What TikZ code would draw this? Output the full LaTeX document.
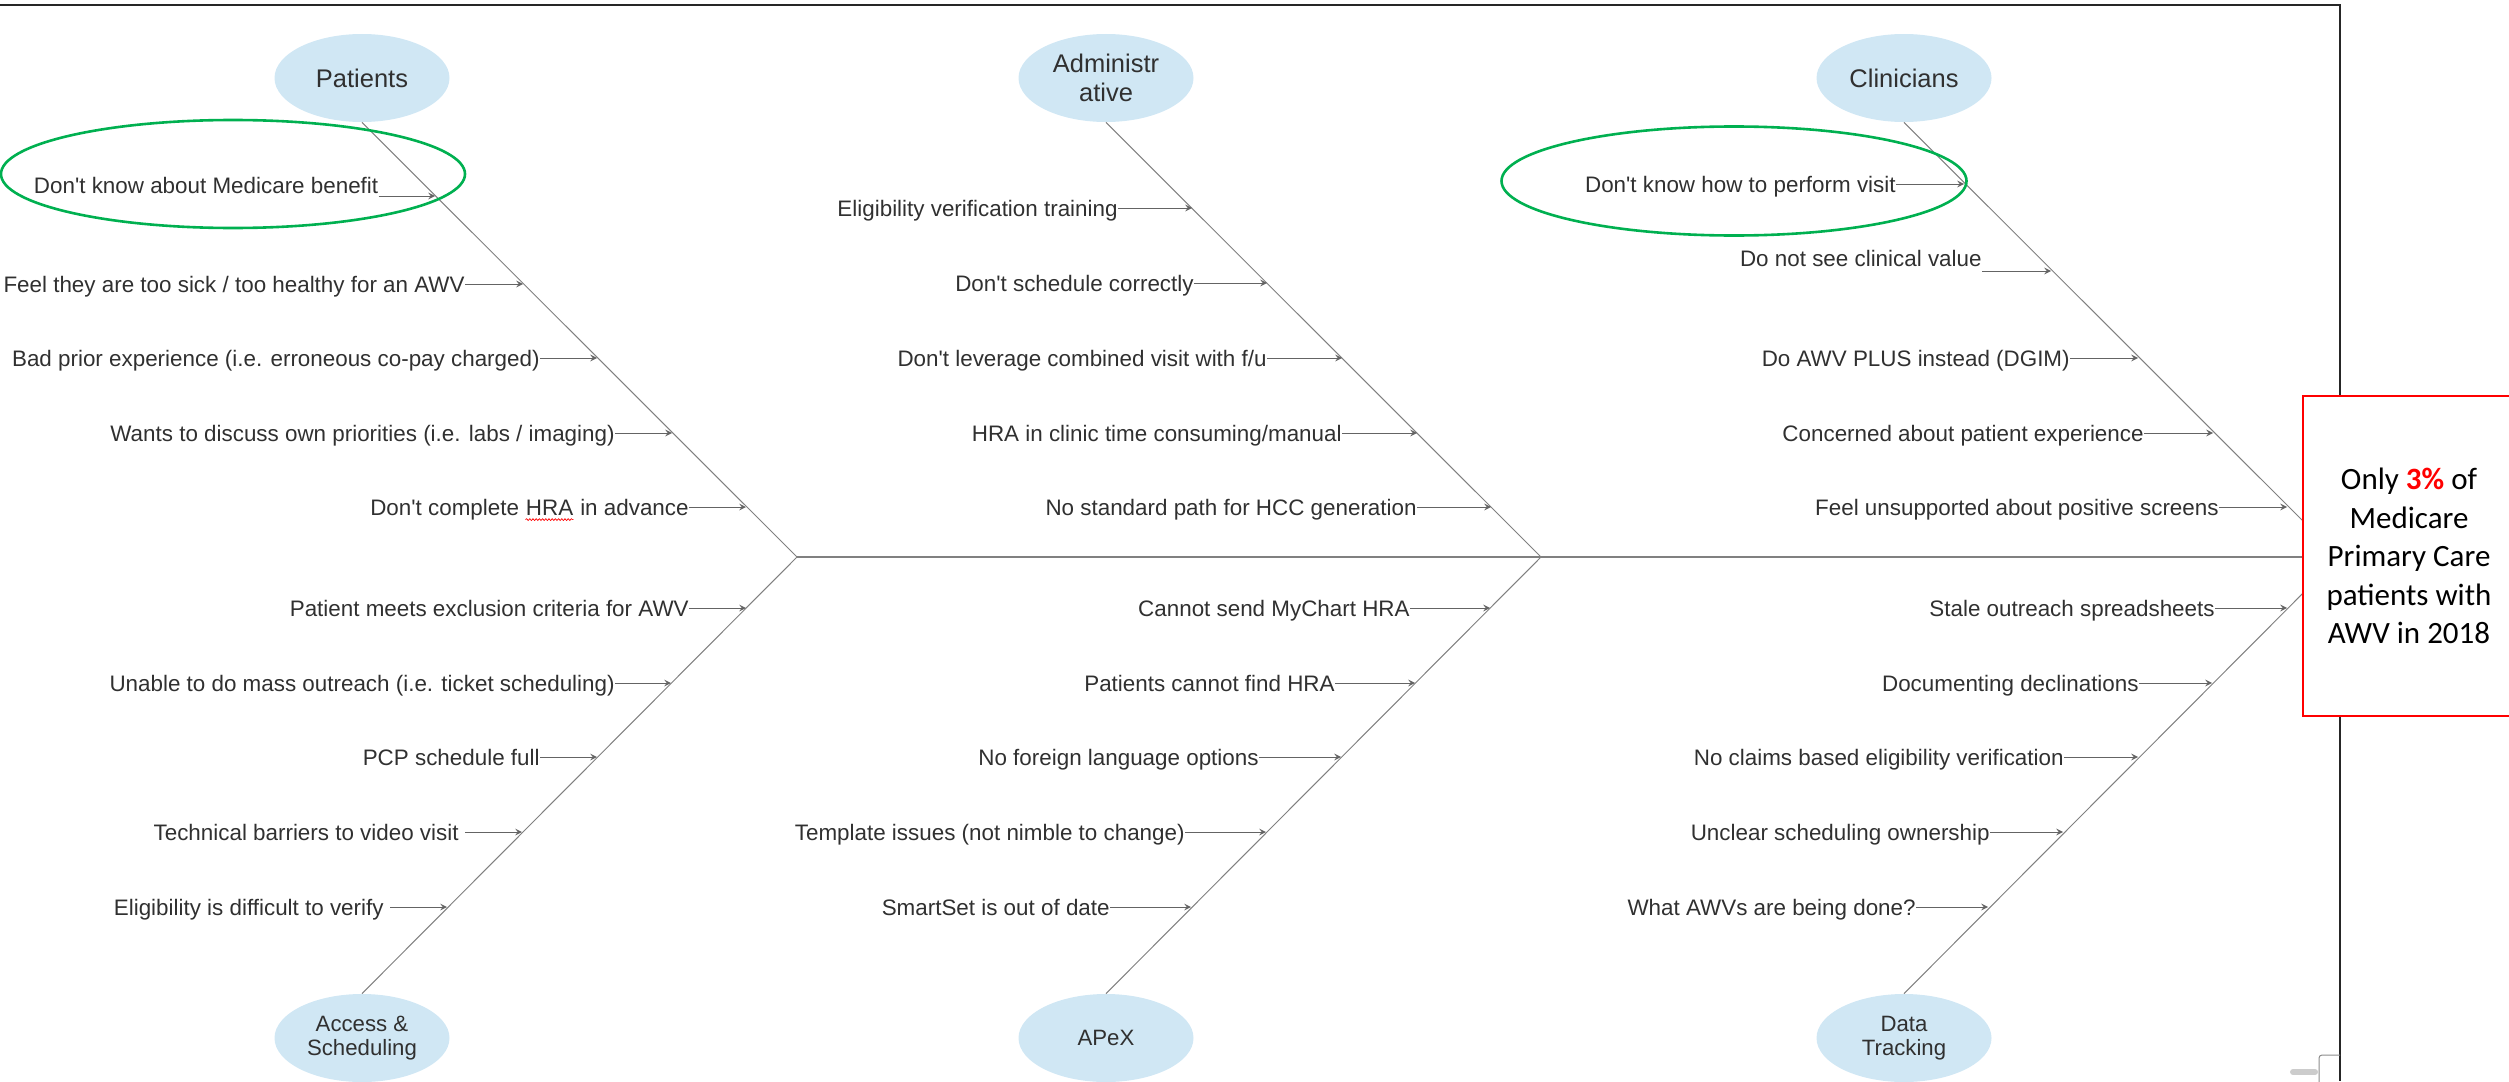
\documentclass[tikz,border=0pt]{standalone}
\usepackage{fontspec}
\setmainfont{Liberation Sans}
\newfontfamily\carlito{Carlito}
\usetikzlibrary{arrows,shapes.geometric,decorations.pathmorphing}
\definecolor{bonegray}{RGB}{128,128,128}
\definecolor{txt}{RGB}{48,48,48}
\definecolor{arrgray}{RGB}{100,100,100}
\definecolor{catblue}{RGB}{208,231,244}
\definecolor{ringgreen}{RGB}{0,176,80}

\newcommand\spellmark[1]{\tikz[baseline=(sm.base)]{\node[anchor=base, inner sep=0pt, text depth=0pt, draw=none, fill=none] (sm) {#1};
\draw[red, line width=0.35pt, decorate, decoration={snake, amplitude=0.45pt, segment length=1.6pt}] ([yshift=-2.3pt]sm.base west) -- ([yshift=-2.3pt]sm.base east);}}

\begin{document}
\begin{tikzpicture}[x=0.5pt,y=-0.5pt,
catnode/.style={ellipse, fill=catblue, minimum width=87.5pt, minimum height=44pt, inner sep=0pt, align=center, text=txt},
topcat/.style={catnode, font=\fontsize{12.75}{14.5}\selectfont},
botcat/.style={catnode, font=\fontsize{11.1}{12.25}\selectfont},
cause/.style={anchor=east, inner sep=0pt, text height=8pt, text depth=0pt, text=txt, font=\fontsize{11.2}{13}\selectfont},
causearrow/.style={->,>=stealth, arrgray, line width=0.5pt},
boneline/.style={bonegray, line width=0.5pt},
spineline/.style={bonegray, line width=0.85pt},
ring/.style={ellipse, draw=ringgreen, line width=1.3pt, inner sep=0pt},
effect/.style={draw=red, line width=1.3pt, fill=white, minimum width=106pt, minimum height=160pt, inner sep=0pt, align=center, font=\carlito\fontsize{15.5}{19.25}\selectfont},
]
\useasboundingbox (0,0) rectangle (2509,1081);

%Frame
\draw[black!85, line width=1.2pt] (0,5) -- (2340,5) -- (2340,1081);

%Categories
\node[topcat] (patients)   at (362,78)   {Patients};
\node[topcat] (admin)      at (1106,78)  {Administr\\ative};
\node[topcat] (clinicians) at (1904,78)  {Clinicians};
\node[botcat] (access)     at (362,1038) {Access \&\\Scheduling};
\node[botcat] (apex)       at (1106,1038) {APeX};
\node[botcat] (data)       at (1904,1038) {Data\\Tracking};

\coordinate (v1) at (797,557);
\coordinate (v2) at (1541,557);
\coordinate (v3) at (2339,557);

%Bones
\draw[spineline] (v1) -- (v3);
\draw[boneline] (patients.south) -- (v1) -- (access.north);
\draw[boneline] (admin.south) -- (v2) -- (apex.north);
\draw[boneline] (clinicians.south) -- (v3) -- (data.north);

%Tips on the bones
\coordinate (t1) at (435,196);
\coordinate (t2) at (523,284);
\coordinate (t3) at (597,358);
\coordinate (t4) at (672,433);
\coordinate (t5) at (746,507);
\coordinate (t6) at (746,608);
\coordinate (t7) at (671,683);
\coordinate (t8) at (597,757);
\coordinate (t9) at (522,832);
\coordinate (t10) at (447,907);
\coordinate (t11) at (1192,208);
\coordinate (t12) at (1267,283);
\coordinate (t13) at (1342,358);
\coordinate (t14) at (1417,433);
\coordinate (t15) at (1491,507);
\coordinate (t16) at (1490,608);
\coordinate (t17) at (1415,683);
\coordinate (t18) at (1341,757);
\coordinate (t19) at (1266,832);
\coordinate (t20) at (1191,907);
\coordinate (t21) at (1964,184);
\coordinate (t22) at (2051,271);
\coordinate (t23) at (2138,358);
\coordinate (t24) at (2213,433);
\coordinate (t25) at (2287,507);
\coordinate (t26) at (2287,608);
\coordinate (t27) at (2212,683);
\coordinate (t28) at (2138,757);
\coordinate (t29) at (2063,832);
\coordinate (t30) at (1988,907);

%Causes
\node[cause] (l1)  at (378.6,185) {Don\textquotesingle t know about Medicare benefit};
\node[cause] (l2)  at (465,284)  {Feel they are too sick / too healthy for an AWV};
\node[cause] (l3)  at (540,358)  {Bad prior experience (i.e. erroneous co-pay charged)};
\node[cause] (l4)  at (615,433)  {Wants to discuss own priorities (i.e. labs / imaging)};
\node[cause] (l5)  at (689,507)  {Don\textquotesingle t complete \spellmark{HRA} in advance};
\node[cause] (l6)  at (689,608)  {Patient meets exclusion criteria for AWV};
\node[cause] (l7)  at (615,683)  {Unable to do mass outreach (i.e. ticket scheduling)};
\node[cause] (l8)  at (540,757)  {PCP schedule full};
\node[cause] (l9)  at (459,832)  {Technical barriers to video visit};
\node[cause] (l10) at (384,907)  {Eligibility is difficult to verify};
\node[cause] (l11) at (1118,208) {Eligibility verification training};
\node[cause] (l12) at (1194,283) {Don\textquotesingle t schedule correctly};
\node[cause] (l13) at (1267,358) {Don\textquotesingle t leverage combined visit with f/u};
\node[cause] (l14) at (1342,433) {HRA in clinic time consuming/manual};
\node[cause] (l15) at (1417,507) {No standard path for HCC generation};
\node[cause] (l16) at (1410,608) {Cannot send MyChart HRA};
\node[cause] (l17) at (1335,683) {Patients cannot find HRA};
\node[cause] (l18) at (1259,757) {No foreign language options};
\node[cause] (l19) at (1185,832) {Template issues (not nimble to change)};
\node[cause] (l20) at (1110,907) {SmartSet is out of date};
\node[cause] (l21) at (1896,184) {Don\textquotesingle t know how to perform visit};
\node[cause] (l22) at (1982,258) {Do not see clinical value};
\node[cause] (l23) at (2070,358) {Do AWV PLUS instead (DGIM)};
\node[cause] (l24) at (2144,433) {Concerned about patient experience};
\node[cause] (l25) at (2219,507) {Feel unsupported about positive screens};
\node[cause] (l26) at (2215,608) {Stale outreach spreadsheets};
\node[cause] (l27) at (2139,683) {Documenting declinations};
\node[cause] (l28) at (2064,757) {No claims based eligibility verification};
\node[cause] (l29) at (1990,832) {Unclear scheduling ownership};
\node[cause] (l30) at (1916,907) {What AWVs are being done?};

\draw[causearrow] (l1.east |- t1) -- (t1);
\draw[causearrow] (l2) -- (t2);
\draw[causearrow] (l3) -- (t3);
\draw[causearrow] (l4) -- (t4);
\draw[causearrow] (l5) -- (t5);
\draw[causearrow] (l6) -- (t6);
\draw[causearrow] (l7) -- (t7);
\draw[causearrow] (l8) -- (t8);
\draw[causearrow] ([xshift=3pt]l9.east) -- (t9);
\draw[causearrow] ([xshift=3pt]l10.east) -- (t10);
\draw[causearrow] (l11) -- (t11);
\draw[causearrow] (l12) -- (t12);
\draw[causearrow] (l13) -- (t13);
\draw[causearrow] (l14) -- (t14);
\draw[causearrow] (l15) -- (t15);
\draw[causearrow] (l16) -- (t16);
\draw[causearrow] (l17) -- (t17);
\draw[causearrow] (l18) -- (t18);
\draw[causearrow] (l19) -- (t19);
\draw[causearrow] (l20) -- (t20);
\draw[causearrow] (l21) -- (t21);
\draw[causearrow] (l22.east |- t22) -- (t22);
\draw[causearrow] (l23) -- (t23);
\draw[causearrow] (l24) -- (t24);
\draw[causearrow] (l25) -- (t25);
\draw[causearrow] (l26) -- (t26);
\draw[causearrow] (l27) -- (t27);
\draw[causearrow] (l28) -- (t28);
\draw[causearrow] (l29) -- (t29);
\draw[causearrow] (l30) -- (t30);

%Highlights
\node[ring, minimum width=232pt, minimum height=54pt] (ring1) at (233,174) {};
\node[ring, minimum width=232.5pt, minimum height=54.5pt] (ring2) at (1734,181) {};

%Effect
\node[effect] (effect) at (2409,556) {Only \textbf{\color{red}3\%} of\\Medicare\\Primary Care\\patients with\\AWV in 2018};

%Corner bits
\draw[black!45, line width=0.5pt, rounded corners=1.5pt] (2319,1090) -- (2319,1055) -- (2340,1055);
\draw[black!20, line width=3pt, line cap=round] (2293,1072) -- (2315,1072);
\end{tikzpicture}
\end{document}
